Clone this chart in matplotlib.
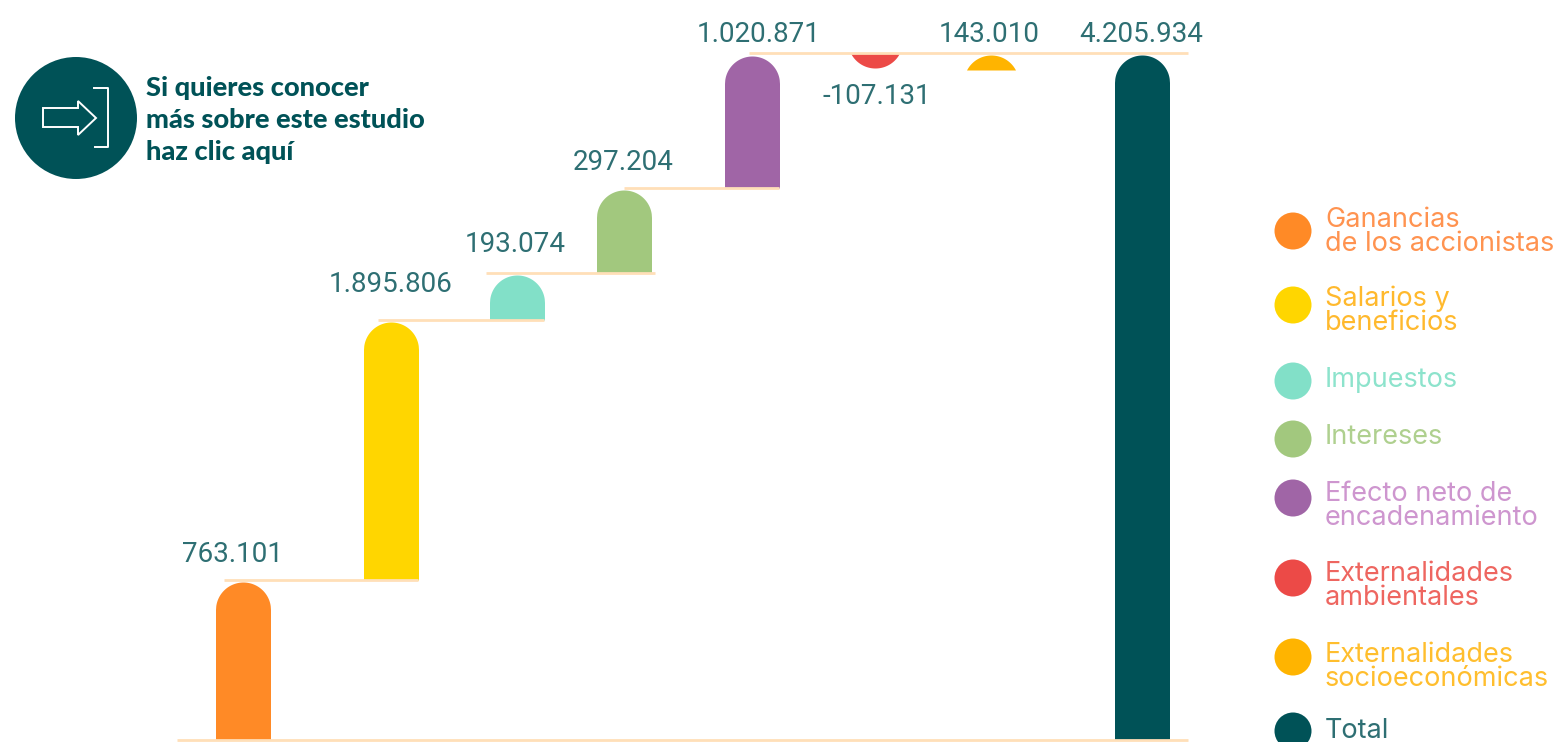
import numpy as np
import matplotlib
matplotlib.use('Agg')
import matplotlib.pyplot as plt
from matplotlib.patches import Circle, Polygon

# printed values (the bars in the original are not drawn to scale)
value_labels = ['763.101', '1.895.806', '193.074', '297.204', '1.020.871', '-107.131', '143.010', '4.205.934']
legend_labels = ['Ganancias\nde los accionistas', 'Salarios y\nbeneficios', 'Impuestos', 'Intereses',
                 'Efecto neto de\nencadenamiento', 'Externalidades\nambientales',
                 'Externalidades\nsocioeconómicas', 'Total']

# bar extents as drawn, height above the baseline
bar_bottoms = [0, 160, 420, 467, 552, 687, 670, 0]
bar_tops = [158, 418, 465, 550, 684, 672, 685, 685]
bar_x = [243, 391, 517, 624, 752, 875, 991, 1142]

connector_y = [0, 160, 420, 467, 552, 687]
connector_start = [177, 224, 378, 486, 624, 749]
connector_end = [1188, 418, 544, 655, 779, 1188]

bar_colors = ['#FF8A26', '#FFD600', '#82E0C8', '#A2C87E', '#A065A6', '#EC4A47', '#FFB400', '#005257']
text_colors = ['#FF9350', '#FFB92D', '#8DE3CC', '#AFD08F', '#CE96CF', '#EE6660', '#FFBE2E', '#2E6F73']

label_x = [233, 391, 515, 623, 759, 877, 989, 1141]
label_y = [554, 285, 244, 162, 34, 96, 34, 34]
legend_y = [231, 305, 381, 439, 498, 578, 657, 731]
legend_text_y = [232, 311, 380, 437, 506, 586, 667, 731]

BAR_W = 55
DARK = '#005257'


def round_bar(ax, x, bottom, top, color):
    # rounded on the far end, cut off flat at the other one
    r = BAR_W / 2
    xs = np.linspace(x - r, x + r, 200)
    cap = np.sqrt(np.maximum(r ** 2 - (xs - x) ** 2, 0))
    if top > bottom:
        ys = top - r + cap
        keep = ys >= bottom
    else:
        ys = top + r - cap
        keep = ys <= bottom
    ax.fill_between(xs[keep], bottom, ys[keep], color=color, linewidth=0, zorder=2)


fig = plt.figure(figsize=(15.58, 7.42), dpi=100)
ax = fig.add_axes([0, 0, 1, 1])
ax.set_xlim(0, 1558)
ax.set_ylim(-2, 740)
ax.axis('off')

for y, x0, x1 in zip(connector_y, connector_start, connector_end):
    ax.plot([x0, x1], [y, y], color='#FFDFB8', lw=2, solid_capstyle='butt', zorder=3)

for x, b, t, c in zip(bar_x, bar_bottoms, bar_tops, bar_colors):
    round_bar(ax, x, b, t, c)

# second axes in picture coordinates for the annotations
top = fig.add_axes([0, 0, 1, 1])
top.set_xlim(0, 1558)
top.set_ylim(742, 0)
top.axis('off')

for x, y, s in zip(label_x, label_y, value_labels):
    top.text(x, y, s, ha='center', va='center', fontsize=20, family='Roboto', color='#2E6F73')

for y, ty, s, c, tc in zip(legend_y, legend_text_y, legend_labels, bar_colors, text_colors):
    top.add_patch(Circle((1293, y), 18.5, color=c, lw=0))
    top.text(1325, ty, s, ha='left', va='center', fontsize=19.5, family='Inter', color=tc, linespacing=0.88)

# link icon
top.add_patch(Circle((76, 118), 61, color=DARK, lw=0))
arrow = [(43, 108), (78, 108), (78, 101), (96, 118), (78, 135), (78, 127), (43, 127)]
top.add_patch(Polygon(arrow, closed=True, fill=False, edgecolor='white', lw=1.4))
top.plot([94, 108, 108, 95], [88, 88, 147, 147], color='white', lw=1.4)
for y, s in zip([88, 120, 152], ['Si quieres conocer', 'más sobre este estudio', 'haz clic aquí']):
    top.text(146, y, s, ha='left', va='center', fontsize=19.6, family='Lato', weight='black', color=DARK)

fig.savefig('out.png', dpi=100)
